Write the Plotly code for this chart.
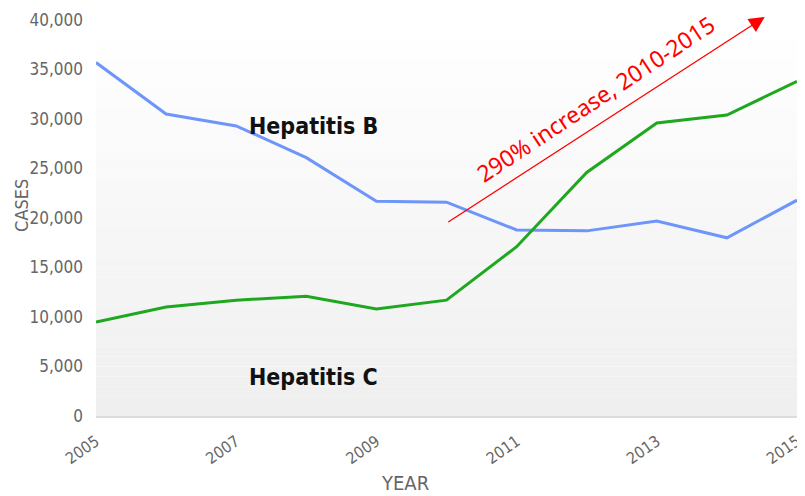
import plotly.graph_objects as go

years = [2005, 2006, 2007, 2008, 2009, 2010, 2011, 2012, 2013, 2014, 2015]
hep_b = [35700, 30500, 29300, 26100, 21700, 21600, 18800, 18700, 19700, 18000, 21800]
hep_c = [9500, 11000, 11700, 12100, 10800, 11700, 17100, 24600, 29600, 30400, 33800]
y_ticks = [0, 5000, 10000, 15000, 20000, 25000, 30000, 35000, 40000]
x_ticks = [2005, 2007, 2009, 2011, 2013, 2015]

NARROW = "DejaVu Sans Condensed, Liberation Sans Narrow, Roboto, sans-serif"
TICK_FONT = dict(family=NARROW, size=17, color="#666666")
XTICK_FONT = dict(family=NARROW, size=16, color="#666666")
LABEL_FONT = dict(family=NARROW, size=23, color="#111111")

fig = go.Figure()
fig.add_trace(go.Scatter(x=years, y=hep_b, mode="lines", name="Hepatitis B",
                         line=dict(color="#6e95fa", width=3)))
fig.add_trace(go.Scatter(x=years, y=hep_c, mode="lines", name="Hepatitis C",
                         line=dict(color="#1fa81f", width=3)))

# vertical gradient background of plot area
n = 40
shapes = []
for i in range(n):
    t = i / (n - 1)
    c = int(round(255 - (255 - 239) * t))
    shapes.append(dict(type="rect", xref="paper", yref="paper",
                       x0=0, x1=1, y0=1 - (i + 1) / n, y1=1 - i / n,
                       fillcolor=f"rgb({c},{c},{c})", line=dict(width=0), layer="below"))

annotations = [
    dict(text="<b>Hepatitis B</b>", xref="paper", yref="paper", x=0.3096, y=0.732,
         xanchor="center", yanchor="middle", showarrow=False, font=LABEL_FONT),
    dict(text="<b>Hepatitis C</b>", xref="paper", yref="paper", x=0.3096, y=0.098,
         xanchor="center", yanchor="middle", showarrow=False, font=LABEL_FONT),
    dict(text="", xref="paper", yref="paper", x=0.954, y=1.0076,
         axref="pixel", ayref="pixel", ax=-318, ay=206,
         showarrow=True, arrowhead=2, arrowsize=2.4, arrowwidth=1.3, arrowcolor="#ff0000"),
    dict(text="290% increase, 2010-2015", xref="paper", yref="paper", x=0.712, y=0.800,
         xanchor="center", yanchor="middle", showarrow=False, textangle=-33.5,
         font=dict(family="Noto Sans, Open Sans, sans-serif", size=23, color="#ff0000")),
    dict(text="CASES", xref="paper", yref="paper", x=-0.1056, y=0.533, textangle=-90,
         xanchor="center", yanchor="middle",
         showarrow=False, font=dict(family=NARROW, size=18, color="#666666")),
    dict(text="YEAR", xref="paper", yref="paper", x=0.441, y=-0.133, yanchor="top",
         xanchor="center",
         showarrow=False, font=dict(family=NARROW, size=20, color="#666666")),
]

# page has an 8px body margin, so the figure is offset by 8px
fig.update_layout(
    width=797, height=488,
    margin=dict(l=88, r=8, t=12, b=80),
    paper_bgcolor="white", plot_bgcolor="rgba(0,0,0,0)",
    showlegend=False,
    shapes=shapes,
    annotations=annotations,
    xaxis=dict(range=[2005, 2015], tickvals=x_ticks, ticktext=[str(v) for v in x_ticks],
               tickangle=-35, tickfont=XTICK_FONT, showgrid=False, zeroline=False,
               showline=True, linecolor="#dcdcdc", linewidth=2, ticks="",
               automargin=False, ticklabeloverflow="allow", ticklabelstandoff=8),
    yaxis=dict(range=[0, 40000], tickvals=y_ticks, ticktext=[f"{v:,}" for v in y_ticks],
               tickfont=TICK_FONT, showgrid=False, zeroline=False, showline=False,
               ticklabelstandoff=12, automargin=False),
)

fig.write_html("out.html")
